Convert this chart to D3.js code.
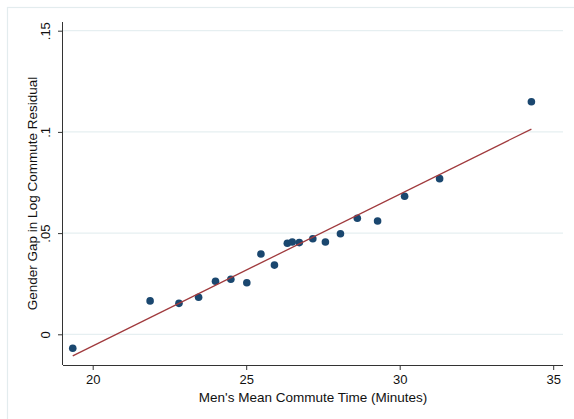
<!DOCTYPE html>
<html><head><meta charset="utf-8">
<script src="https://cdn.jsdelivr.net/npm/d3@7"></script>
<style>body{margin:0;background:#fff}svg{display:block}text{font-family:"Liberation Sans",Arial,sans-serif;fill:#111}</style>
</head><body>
<script>
const commuteMinutes = [19.35,21.87,22.81,23.45,24.0,24.5,25.02,25.48,25.92,26.34,26.5,26.73,27.17,27.58,28.07,28.62,29.28,30.16,31.30,34.29];
const genderGap = [-0.0069,0.0165,0.0153,0.0183,0.0262,0.0272,0.0255,0.0397,0.0342,0.0450,0.0456,0.0453,0.0472,0.0456,0.0497,0.0573,0.0560,0.0682,0.0769,0.1149];
const fitX = [19.35,34.29];
const fitY = [-0.0107,0.1014];
const xTicks = [20,25,30,35];
const yTicks = [0,0.05,0.1,0.15];
const yTickLabels = ["0",".05",".1",".15"];

const W=574,H=419;
const svg=d3.select("body").append("svg").attr("width",W).attr("height",H);
svg.append("rect").attr("x",7.5).attr("y",7.5).attr("width",W).attr("height",H).attr("fill","#fff").attr("stroke","#e3ecee").attr("stroke-width",1.2);

const x=d3.scaleLinear().domain([20,35]).range([92.7,553.2]);
const y=d3.scaleLinear().domain([0,0.15]).range([334.3,30.7]);
const L=63,R=563,T=22,B=365;

// gridlines
svg.append("g").selectAll("line").data(yTicks).join("line")
 .attr("x1",L).attr("x2",R).attr("y1",d=>y(d)).attr("y2",d=>y(d))
 .attr("stroke","#e6eff1").attr("stroke-width",1.2);

// x axis
const xg=svg.append("g").attr("transform",`translate(0,${B})`)
 .call(d3.axisBottom(x).tickValues(xTicks).tickSize(5).tickPadding(5).tickFormat(d3.format("d")));
xg.select(".domain").attr("d",`M${L},0.5H${R}`).attr("stroke","#333");
xg.selectAll(".tick line").attr("stroke","#333");
xg.selectAll("text").attr("font-size",13).style("fill","#111");

// y axis
const yg=svg.append("g").attr("transform",`translate(${L},0)`)
 .call(d3.axisLeft(y).tickValues(yTicks).tickSize(5).tickFormat((d,i)=>yTickLabels[i]));
yg.select(".domain").attr("d",`M-0.5,${T}V${B}`).attr("stroke","#333");
yg.selectAll(".tick line").attr("stroke","#333");
yg.selectAll("text").attr("font-size",13).style("fill","#111")
 .attr("transform","rotate(-90)").attr("text-anchor","middle").attr("x",0).attr("y",-13.5).attr("dy","0");

// titles
svg.append("text").attr("x",(L+R)/2).attr("y",402).attr("text-anchor","middle").attr("font-size",13.5).text("Men's Mean Commute Time (Minutes)");
svg.append("text").attr("transform",`translate(36.5,${(T+B)/2}) rotate(-90)`).attr("text-anchor","middle").attr("font-size",13.5).text("Gender Gap in Log Commute Residual");

// points
svg.append("g").selectAll("circle").data(commuteMinutes).join("circle")
 .attr("cx",d=>x(d)).attr("cy",(d,i)=>y(genderGap[i])).attr("r",3.8).attr("fill","#1a476f");

// fit line
svg.append("path").datum(fitX.map((d,i)=>[d,fitY[i]]))
 .attr("d",d3.line().x(d=>x(d[0])).y(d=>y(d[1])))
 .attr("stroke","#a03a3d").attr("stroke-width",1.3).attr("fill","none");
</script>
</body></html>
